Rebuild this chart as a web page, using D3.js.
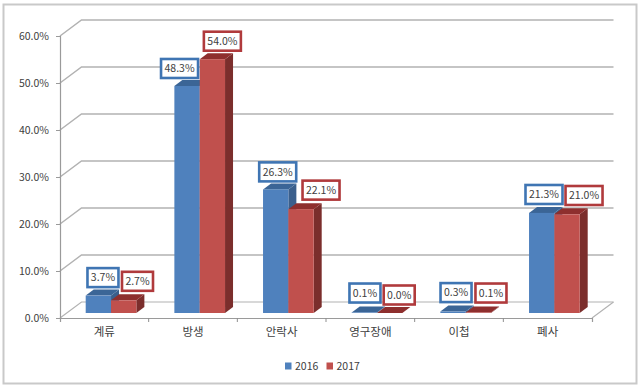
<!DOCTYPE html>
<html>
<head>
<meta charset="utf-8">
<style>
  html, body { margin: 0; padding: 0; background: #fff; }
  svg { display: block; }
  text { font-family: "Noto Sans CJK KR", "Noto Sans", sans-serif; font-size: 10.5px; fill: #404040; }
</style>
<script src="https://d3js.org/d3.v7.min.js"></script>
</head>
<body>
<svg class="chart" width="640" height="386"></svg>
<script>
"use strict";

const categories = ["계류", "방생", "안락사", "영구장애", "이첩", "폐사"];
const years = ["2016", "2017"];
const values2016 = [3.7, 48.3, 26.3, 0.1, 0.3, 21.3];
const values2017 = [2.7, 54.0, 22.1, 0.0, 0.1, 21.0];
const yTicks = [0, 10, 20, 30, 40, 50, 60];

// label boxes were dragged by hand in the original, so each has its own nudge
const nudge2016 = [[4.6, -18], [-7.5, -17.5], [2, -17.5], [0.6, -19.5], [3, -19], [2.3, -18.4]];
const nudge2017 = [[13.8, -19], [10, -18], [20, -19], [9.5, -18], [12.6, -19.5], [17, -18.8]];

const svg = d3.select(".chart");
const front = { left: 60, right: 592, top: 36, bottom: 318 };
const wall = { dx: 21.5, dy: -16 }; // back wall offset
const bar3d = { dx: 8, dy: -6 };    // bar depth
const barLift = 5;                  // bars stand a bit inside the floor
const barShift = 6.7;

const colors = {
  2016: { front: "#4f81bd", top: "#3b6596", side: "#3a5f8c", box: "#3f75b3" },
  2017: { front: "#c0504d", top: "#8e2f2e", side: "#7b2e2c", box: "#b03a3c" },
};

const y = d3.scaleLinear().domain([0, 60]).range([front.bottom, front.top]);
const x0 = d3.scaleBand().domain(categories).range([front.left, front.right]);
const x1 = d3.scaleBand().domain(years).range([0, x0.bandwidth()]).paddingOuter(0.75);

// outer frame
svg.append("rect")
  .attr("x", 3.5).attr("y", 4.5)
  .attr("width", 633).attr("height", 379)
  .attr("fill", "#fff")
  .attr("stroke", "#c9c9c9")
  .attr("stroke-width", 2);

// gridlines on wall + side wall
const gridColor = "#b2b2b2";
const grid = svg.append("g").attr("fill", "none").attr("stroke", gridColor);
grid.selectAll("path")
  .data(yTicks)
  .enter()
  .append("path")
  .attr("stroke-width", (d) => (d === 0 ? 1.2 : 1.5))
  .attr("d", (d) => {
    const p = d3.path();
    p.moveTo(front.left, y(d));
    p.lineTo(front.left + wall.dx, y(d) + wall.dy);
    p.lineTo(front.right + wall.dx, y(d) + wall.dy);
    return p.toString();
  });

// floor edge on the right
grid.append("path")
  .attr("stroke-width", 1.2)
  .attr("d", () => {
    const p = d3.path();
    p.moveTo(front.right + wall.dx, y(0) + wall.dy);
    p.lineTo(front.right, y(0));
    return p.toString();
  });

// axes
const yAxis = d3.axisLeft(y)
  .tickValues(yTicks)
  .tickSize(4)
  .tickPadding(7)
  .tickFormat((d) => d.toFixed(1) + "%");
const xAxis = d3.axisBottom(x0).tickSize(0).tickSizeOuter(4).tickPadding(10);

const gy = svg.append("g").attr("transform", `translate(${front.left},0)`).call(yAxis);
const gx = svg.append("g").attr("transform", `translate(0,${front.bottom})`).call(xAxis);

// ticks sit between the categories, not under them
gx.append("g")
  .selectAll("line")
  .data(categories.slice(1))
  .enter()
  .append("line")
  .attr("x1", (d) => x0(d))
  .attr("x2", (d) => x0(d))
  .attr("y2", 4)
  .attr("stroke", "#8f8f8f");

svg.selectAll(".domain").attr("stroke", "#9a9a9a").attr("stroke-width", 1.2);
svg.selectAll(".tick line").attr("stroke", "#9a9a9a");
gy.selectAll("text").style("font-size", "10.5px");
gx.selectAll(".tick text").style("font-size", "11.5px");

// bars
const rows = [];
years.forEach((year, s) => {
  const vals = s === 0 ? values2016 : values2017;
  const nudges = s === 0 ? nudge2016 : nudge2017;
  categories.forEach((cat, i) => {
    rows.push({ cat, year, value: vals[i], nudge: nudges[i] });
  });
});

const barX = (d) => x0(d.cat) + x1(d.year) + barShift;
const barTop = (d) => y(d.value) - barLift;
const barBase = y(0) - barLift;
const w = x1.bandwidth();

const bars = svg.append("g")
  .selectAll("g")
  .data(rows)
  .enter()
  .append("g");

bars.append("path")
  .attr("fill", (d) => colors[d.year].side)
  .attr("d", (d) => {
    const r = barX(d) + w;
    return `M${r},${barBase}L${r + bar3d.dx},${barBase + bar3d.dy}L${r + bar3d.dx},${barTop(d) + bar3d.dy}L${r},${barTop(d)}Z`;
  });

bars.append("path")
  .attr("fill", (d) => colors[d.year].top)
  .attr("d", (d) => {
    const l = barX(d);
    const t = barTop(d);
    return `M${l},${t}L${l + bar3d.dx},${t + bar3d.dy}L${l + w + bar3d.dx},${t + bar3d.dy}L${l + w},${t}Z`;
  });

bars.append("rect")
  .attr("x", barX)
  .attr("y", barTop)
  .attr("width", w)
  .attr("height", (d) => barBase - barTop(d))
  .attr("fill", (d) => colors[d.year].front);

// value labels
const labels = svg.append("g")
  .selectAll("g")
  .data(rows)
  .enter()
  .append("g")
  .attr("transform", (d) => `translate(${barX(d) + w / 2 + d.nudge[0]},${barTop(d) + d.nudge[1]})`);

labels.append("rect")
  .attr("x", (d) => (d.value >= 10 ? -18.5 : -15.5))
  .attr("y", -9.5)
  .attr("width", (d) => (d.value >= 10 ? 37 : 31))
  .attr("height", 19)
  .attr("fill", "#fff")
  .attr("stroke", (d) => colors[d.year].box)
  .attr("stroke-width", 2.6);

labels.append("text")
  .attr("text-anchor", "middle")
  .attr("dy", "0.35em")
  .text((d) => d.value.toFixed(1) + "%");

// legend
const legendX = d3.scalePoint().domain(years).range([285, 326.5]);
const legend = svg.append("g")
  .selectAll("g")
  .data(years)
  .enter()
  .append("g")
  .attr("transform", (d) => `translate(${legendX(d)},366)`);

legend.append("rect")
  .attr("y", -3.5)
  .attr("width", 6.5)
  .attr("height", 7)
  .attr("fill", (d) => colors[d].front);

legend.append("text")
  .attr("x", 10)
  .attr("dy", "0.35em")
  .text((d) => d);
</script>
</body>
</html>
